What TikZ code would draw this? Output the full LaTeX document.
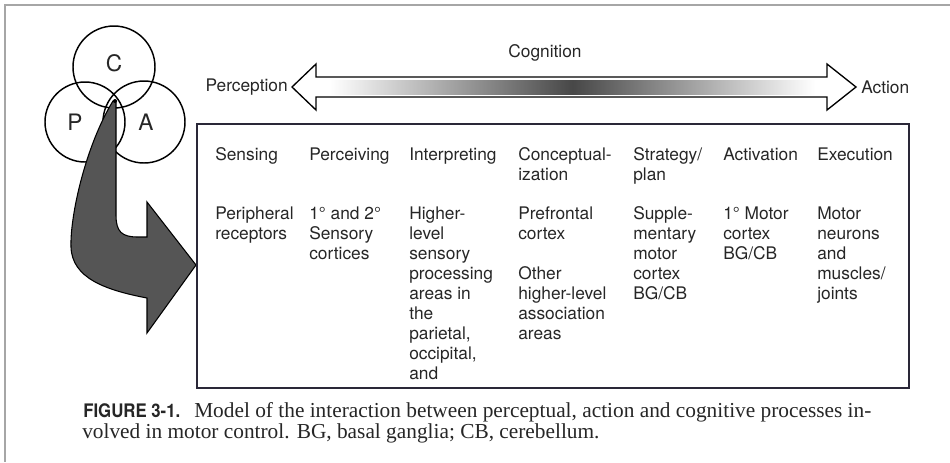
\documentclass[tikz,border=0pt]{standalone}
\usepackage{fontspec}
\setmainfont{TeX Gyre Heros}
\newfontfamily\capfont{Liberation Serif}
\definecolor{ink}{HTML}{262626}
\definecolor{arrowfill}{HTML}{555555}
\definecolor{boxline}{HTML}{2A2838}
\newcommand{\stack}[1]{\begin{tabular}[t]{@{}l@{}}#1\end{tabular}}
\begin{document}
\begin{tikzpicture}[x=0.75pt,y=-0.75pt,
  col/.style={anchor=base west, inner sep=0pt, text=ink, font=\fontsize{13}{15}\selectfont},
  circ/.style={draw=black, line width=1.1pt},
  lbl/.style={inner sep=0pt, text=ink, font=\fontsize{17}{19}\selectfont},
  side/.style={inner sep=0pt, text=ink, font=\fontsize{13}{15}\selectfont},
  capt/.style={anchor=base west, inner sep=0pt, text=ink, font=\capfont\fontsize{16}{18}\selectfont}]
\useasboundingbox (0,0) rectangle (950,462);
% page frame
\draw[gray!70, line width=0.8pt] (950,5) -- (5,5) -- (5,462);
% circles
\draw[circ] (114,67) circle (41);
\draw[circ] (85,122) circle (40);
\draw[circ] (144,122) circle (41);
\node[lbl] (C) at (114,63) {C};
\node[lbl] (P) at (75,122) {P};
\node[lbl] (A) at (146,122) {A};
% big curved arrow
\draw[fill=arrowfill, draw=black, line width=0.8pt]
  (116,101) -- (116,215) .. controls (116,232) and (122,237) .. (138,237)
  -- (147,237) -- (147,202) -- (196,265) -- (147,333) -- (147,298)
  .. controls (105,290) and (72,278) .. (71,247)
  .. controls (70,215) and (86,145) .. (113,101) -- cycle;
\fill[black] (115,101) circle (2);
% double arrow
\draw[fill=white, draw=black, line width=1pt]
  (292,87) -- (316,64) -- (316,77) -- (827,77) -- (827,64) -- (856,87)
  -- (827,110) -- (827,97) -- (316,97) -- (316,110) -- cycle;
\shade[left color=white, right color=white, middle color=black!72] (330,80) rectangle (815,94);
\node[side, anchor=east] (perc) at (288,87) {Perception};
\node[side, anchor=west] (act) at (861,87) {Action};
\node[side, anchor=base] (cog) at (545,57) {Cognition};
% box
\draw[draw=boxline, line width=1.3pt] (197,124) rectangle (909,388);
% headers
\node[col] (h1) at (215,160) {Sensing};
\node[col] (h2) at (309,160) {Perceiving};
\node[col] (h3) at (409,160) {Interpreting};
\node[col] (h4) at (518,160) {\stack{Conceptual-\\ization}};
\node[col] (h5) at (633,160) {\stack{Strategy/\\plan}};
\node[col] (h6) at (723,160) {Activation};
\node[col] (h7) at (817,160) {Execution};
% bodies
\node[col] (b1) at (215,219) {\stack{Peripheral\\receptors}};
\node[col] (b2) at (309,219) {\stack{1° and 2°\\Sensory\\cortices}};
\node[col] (b3) at (409,219) {\stack{Higher-\\level\\sensory\\processing\\areas in\\the\\parietal,\\occipital,\\and}};
\node[col] (b4) at (518,219) {\stack{Prefrontal\\cortex\\[15pt]Other\\higher-level\\association\\areas}};
\node[col] (b5) at (633,219) {\stack{Supple-\\mentary\\motor\\cortex\\BG/CB}};
\node[col] (b6) at (723,219) {\stack{1° Motor\\cortex\\BG/CB}};
\node[col] (b7) at (817,219) {\stack{Motor\\neurons\\and\\muscles/\\joints}};
% caption
\node[anchor=base west, inner sep=0pt, text=ink] (fig) at (83,417)
  {\scalebox{0.9}[1]{\fontsize{14}{17}\selectfont\bfseries FIGURE 3-1.}};
\node[capt] (cap1) at (194,417) {Model of the interaction between perceptual, action and cognitive processes in-};
\node[capt] (cap2) at (82,438) {volved in motor control. BG, basal ganglia; CB, cerebellum.};
\end{tikzpicture}
\end{document}
